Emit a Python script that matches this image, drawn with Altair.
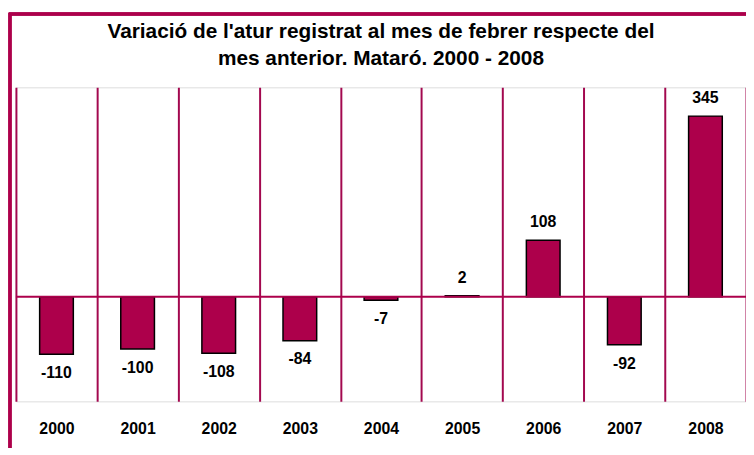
import altair as alt
import pandas as pd

years = ["2000", "2001", "2002", "2003", "2004", "2005", "2006", "2007", "2008"]
values = [-110, -100, -108, -84, -7, 2, 108, -92, 345]

title_lines = ["Variació de l'atur registrat al mes de febrer respecte del",
               "mes anterior. Mataró. 2000 - 2008"]

MAROON = "#AD004B"
GRID = "#A3084F"
FONT = "Liberation Sans"

df = pd.DataFrame({"year": years, "value": values})
df["label"] = [str(v) for v in values]

xenc = alt.X("year:N", sort=years,
             scale=alt.Scale(paddingInner=0, paddingOuter=0),
             axis=alt.Axis(title=None, labelAngle=0, tickBand="extent", grid=True,
                           gridColor=GRID, gridWidth=2, gridOpacity=1,
                           domain=False, ticks=False, labelFont=FONT, labelFontSize=16,
                           labelFontWeight="bold", labelColor="black", labelPadding=19))
yenc = alt.Y("value:Q", scale=alt.Scale(domain=[-200, 400], nice=False, zero=False), axis=None)

base = alt.Chart(df).encode(x=xenc, y=yenc)

frame = alt.Chart(df).mark_rect(filled=False, stroke=MAROON, strokeWidth=2.5).encode(
    x=alt.value(-6), x2=alt.value(760), y=alt.value(-74), y2=alt.value(420))

bars = base.mark_bar(size=34, color=MAROON, stroke="black", strokeWidth=1.5)

zero = alt.Chart(pd.DataFrame({"z": [0]})).mark_rule(color=MAROON, strokeWidth=2).encode(
    y=alt.Y("z:Q", scale=alt.Scale(domain=[-200, 400], nice=False, zero=False), axis=None))

pos_labels = base.transform_filter("datum.value >= 0").mark_text(
    dy=-18, baseline="middle", font=FONT, fontSize=16, fontWeight="bold", color="black"
).encode(text="label:N")
neg_labels = base.transform_filter("datum.value < 0").mark_text(
    dy=19, baseline="middle", font=FONT, fontSize=16, fontWeight="bold", color="black"
).encode(text="label:N")

chart = alt.layer(frame, bars, zero, pos_labels, neg_labels).properties(
    width=737, height=317,
    padding={"left": 8, "top": 78, "right": 0, "bottom": 45},
    autosize="none",
    title=alt.TitleParams(title_lines, font=FONT, fontSize=21, fontWeight="bold",
                          color="black", anchor="middle", lineHeight=28, offset=-74,
                          baseline="alphabetic", frame="group"),
).configure_view(stroke=None).configure(background="white")

chart.save("out.html", embed_options={"renderer": "svg", "actions": False})
